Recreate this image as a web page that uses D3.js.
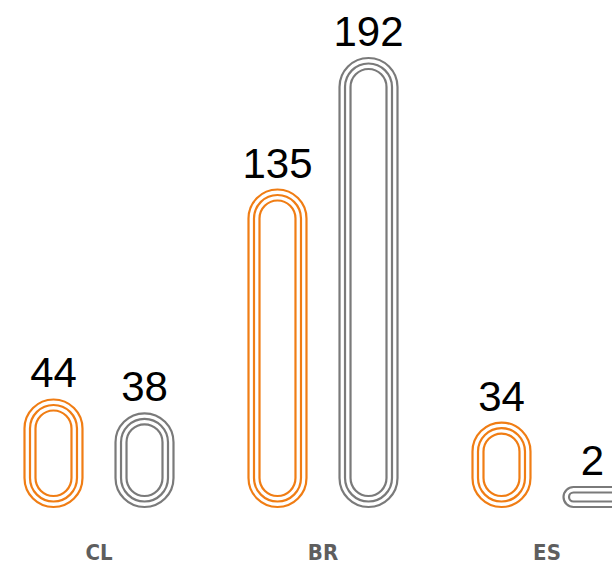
<!DOCTYPE html>
<html><head><meta charset="utf-8">
<script src="https://cdn.jsdelivr.net/npm/d3@7"></script>
<style>html,body{margin:0;padding:0;background:#fff;overflow:hidden}</style>
</head><body>
<svg id="chart" width="612" height="567"></svg>
<script>
const categories = ["CL", "BR", "ES"];
const seriesNames = ["A", "B"];
const seriesA = [44, 135, 34];
const seriesB = [38, 192, 2];

const colors = {A: "#f07d14", B: "#7a7a7a"};
const svg = d3.select("#chart");
const baseline = 508;

const data = categories.map((c, i) => ({cat: c, values: [
  {s: "A", v: seriesA[i]}, {s: "B", v: seriesB[i]}]}));

const x0 = d3.scaleBand().domain(categories).range([-13, 659]).paddingInner(0).paddingOuter(0);
const x1 = d3.scaleBand().domain(seriesNames).range([36.5, 187.5]).paddingInner(0.341).paddingOuter(0);
const y = d3.scaleLinear().domain([0, 192]).range([baseline - 8, 57]);
const minH = 22;

const insets = [0, 5.5, 11];

const g = svg.append("g");
data.forEach(d => {
  const gg = g.append("g").attr("transform", `translate(${x0(d.cat)},0)`);
  d.values.forEach(p => {
    const w = x1.bandwidth();
    const h = Math.max(minH, baseline - y(p.v));
    const top = baseline - h;
    insets.forEach(k => {
      const ww = w - 2 * k, hh = Math.max(0, h - 2 * k);
      const r = Math.min(ww, hh) / 2;
      gg.append("rect")
        .attr("x", x1(p.s) + k + 1).attr("y", top + k + 1)
        .attr("width", ww - 2).attr("height", Math.max(0, hh - 2))
        .attr("rx", Math.max(0, r - 1)).attr("ry", Math.max(0, r - 1))
        .attr("fill", "none").attr("stroke", colors[p.s]).attr("stroke-width", 2.2);
    });
    gg.append("text")
      .attr("x", x1(p.s) + w / 2).attr("y", top - 11)
      .attr("text-anchor", "middle")
      .attr("font-family", "Liberation Sans, Arial, sans-serif")
      .attr("font-size", 42).attr("fill", "#000")
      .text(p.v);
  });
  gg.append("text")
    .attr("x", x0.bandwidth() / 2).attr("y", 560)
    .attr("text-anchor", "middle")
    .attr("font-family", "DejaVu Sans Condensed, Liberation Sans Narrow, sans-serif")
    .attr("font-weight", "bold").attr("font-size", 22).attr("fill", "#5e5e5e")
    .text(d.cat);
});
</script>
</body></html>
